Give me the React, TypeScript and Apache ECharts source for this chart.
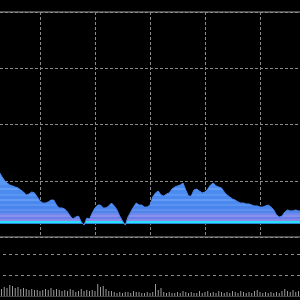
import React, { useEffect, useRef } from "react";
import * as echarts from "echarts";

// Price series (one value per trading day)
const prices: number[] = [
  2342, 2329, 2320, 2311, 2302, 2293, 2271, 2253, 2240, 2231,
  2227, 2222, 2218, 2209, 2200, 2187, 2191, 2200, 2196, 2178,
  2160, 2151, 2151, 2156, 2164, 2164, 2142, 2129, 2129, 2124,
  2111, 2093, 2080, 2089, 2093, 2067, 2053, 2084, 2080, 2107,
  2129, 2142, 2142, 2129, 2129, 2138, 2151, 2138, 2120, 2093,
  2071, 2053, 2089, 2111, 2133, 2151, 2142, 2142, 2133, 2133,
  2142, 2178, 2196, 2204, 2187, 2182, 2191, 2196, 2213, 2222,
  2227, 2231, 2240, 2209, 2182, 2182, 2209, 2213, 2204, 2196,
  2200, 2213, 2231, 2240, 2227, 2222, 2218, 2200, 2187, 2178,
  2169, 2164, 2156, 2151, 2151, 2147, 2147, 2142, 2138, 2138,
  2133, 2133, 2138, 2142, 2133, 2120, 2098, 2089, 2093, 2111,
  2120, 2116, 2116, 2120, 2116, 2116, 2120, 2116, 2111, 2116,
  2120,
];

// Volume series
const volumes: number[] = [
  6, 7, 5, 8, 6, 7, 7, 9, 8, 11,
  10, 8, 9, 7, 8, 7, 6, 7, 6, 6,
  5, 6, 7, 6, 8, 6, 7, 6, 5, 6,
  5, 7, 6, 4, 5, 7, 5, 6, 5, 6,
  5, 12, 9, 10, 7, 5, 5, 4, 3, 4,
  3, 4, 4, 3, 5, 4, 4, 3, 3, 4,
  3, 4, 12, 6, 8, 4, 3, 4, 3, 3,
  4, 3, 5, 4, 3, 4, 3, 3, 5, 3,
  4, 5, 3, 4, 3, 5, 4, 3, 4, 3,
  5, 4, 3, 5, 4, 3, 4, 3, 5, 6,
  4, 3, 4, 3, 4, 3, 4, 3, 5, 7,
  5, 4, 6, 4, 5, 4, 3, 5, 4, 3,
  4,
];

const categories: string[] = prices.map((_, i) => "D" + (i + 1));

const priceMin = 2000;
const priceMax = 3000;
const priceInterval = 250;
const areaBase = 2058;
const volumeMax = 42;
const volumeInterval = 21;

// horizontal stripe palette of the area fill (pixel rows, colour)
const stripes: [number, string][] = [
  [160, "#5a97f2"],
  [185, "#4d8cef"],
  [188, "#649df5"],
  [190, "#4d8cef"],
  [194, "#5a96f3"],
  [196, "#4a88ee"],
  [199, "#649cf5"],
  [201, "#4a88ee"],
  [204, "#5a93f2"],
  [206, "#4884ec"],
  [209, "#5f90f0"],
  [211, "#4f84ea"],
  [213, "#7088ec"],
  [215, "#8890ee"],
  [217, "#6a80e8"],
  [219, "#8a88ea"],
  [220.5, "#26e4f6"],
  [222.5, "#2f84e0"],
  [226, "#2f84e0"],
];

function buildGradient() {
  const y0 = stripes[0][0];
  const y1 = stripes[stripes.length - 1][0];
  const stops: { offset: number; color: string }[] = [];
  for (let k = 0; k < stripes.length - 1; k++) {
    const a = (stripes[k][0] - y0) / (y1 - y0);
    const b = (stripes[k + 1][0] - y0) / (y1 - y0);
    stops.push({ offset: a, color: stripes[k][1] });
    stops.push({ offset: b, color: stripes[k][1] });
  }
  return new echarts.graphic.LinearGradient(0, y0, 0, y1, stops, true);
}

export default function App() {
  const ref = useRef<HTMLDivElement>(null);
  useEffect(() => {
    if (!ref.current) return;
    const chart = echarts.init(ref.current, null, { renderer: "svg" });
    const dashed = { color: "#8a8a8a", type: [3, 2] as any, width: 1 };
    chart.setOption({
      animation: false,
      backgroundColor: "#000000",
      grid: [
        {
          left: 0,
          right: 0,
          top: 12,
          height: 225,
          show: true,
          borderColor: "#6a6a6a",
          borderWidth: 1.5,
          backgroundColor: "transparent",
        },
        { left: 0, right: 0, top: 254, height: 42 },
      ],
      xAxis: [
        {
          type: "category",
          gridIndex: 0,
          data: categories,
          boundaryGap: false,
          axisLine: { show: false },
          axisTick: { show: false },
          axisLabel: { show: false },
          splitLine: { show: true, interval: 19, lineStyle: dashed },
        },
        {
          type: "category",
          gridIndex: 1,
          data: categories,
          boundaryGap: false,
          axisLine: { show: true, lineStyle: { color: "#444" } },
          axisTick: { show: false },
          axisLabel: { show: false },
          splitLine: { show: false },
        },
      ],
      yAxis: [
        {
          type: "value",
          gridIndex: 0,
          min: priceMin,
          max: priceMax,
          interval: priceInterval,
          axisLine: { show: false },
          axisTick: { show: false },
          axisLabel: { show: false },
          splitLine: { show: true, lineStyle: dashed },
        },
        {
          type: "value",
          gridIndex: 1,
          min: 0,
          max: volumeMax,
          interval: volumeInterval,
          axisLine: { show: false },
          axisTick: { show: false },
          axisLabel: { show: false },
          splitLine: { show: true, lineStyle: { color: "#8a8a8a", type: [3, 3], width: 1 } },
        },
      ],
      series: [
        {
          type: "line",
          xAxisIndex: 0,
          yAxisIndex: 0,
          data: prices,
          symbol: "none",
          lineStyle: { color: "#4a88ee", width: 1 },
          areaStyle: { color: buildGradient(), opacity: 1, origin: areaBase },
        },
        {
          type: "bar",
          xAxisIndex: 1,
          yAxisIndex: 1,
          data: volumes,
          barWidth: 1,
          itemStyle: { color: "#9a9a9a" },
        },
      ],
    });
    return () => chart.dispose();
  }, []);
  return (
    <div style={{ position: "fixed", left: 0, top: 0, width: 300, height: 300, overflow: "hidden", background: "#000" }}>
      <div
        ref={ref}
        style={{ position: "absolute", left: -15, top: 0, width: 330, height: 300 }}
      />
    </div>
  );
}
